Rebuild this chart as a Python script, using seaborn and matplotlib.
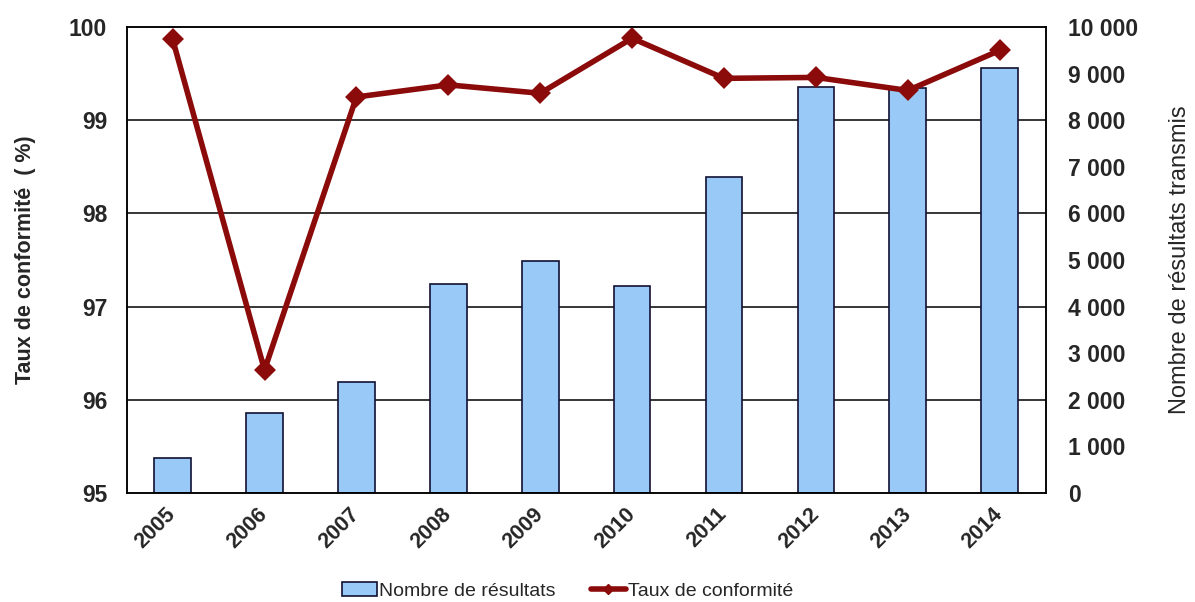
import pandas as pd
import matplotlib.pyplot as plt
import seaborn as sns
from matplotlib.patches import Patch
from matplotlib.lines import Line2D

# Data
years = ['2005', '2006', '2007', '2008', '2009', '2010', '2011', '2012', '2013', '2014']
nb_resultats = [750, 1720, 2380, 4480, 4980, 4440, 6780, 8710, 8700, 9120]
taux_conformite = [99.87, 96.32, 99.25, 99.38, 99.29, 99.88, 99.45, 99.46, 99.32, 99.75]

df = pd.DataFrame({'annee': years, 'nb': nb_resultats, 'taux': taux_conformite})

sns.set_style('white')
plt.rcParams['font.family'] = ['Liberation Sans', 'DejaVu Sans']

bar_color = '#99c9f7'
line_color = '#8b0a0a'

fig, ax = plt.subplots(figsize=(11.95, 6.02), dpi=100)
fig.subplots_adjust(left=0.106, right=0.875, top=0.955, bottom=0.181)
ax2 = ax.twinx()

# bars on the secondary axis, drawn underneath the line axis
for y in [2000, 4000, 6000, 8000]:
    ax2.axhline(y, color='black', lw=1.1, zorder=0)
sns.barplot(data=df, x='annee', y='nb', ax=ax2, color=bar_color,
            edgecolor='#111133', linewidth=1.2, width=0.4, saturation=1, zorder=2)

sns.pointplot(data=df, x='annee', y='taux', ax=ax, color=line_color,
              markers='D', markersize=8, linewidth=4, linestyles='-')

ax.set_zorder(ax2.get_zorder() + 1)
ax.patch.set_visible(False)

ax.set_xlim(-0.5, 9.5)
ax.set_ylim(95, 100)
ax.set_yticks([95, 96, 97, 98, 99, 100])
ax2.set_ylim(0, 10000)
ax2.set_yticks(range(0, 10001, 1000))
ax2.set_yticklabels([f'{v:,}'.replace(',', ' ') for v in range(0, 10001, 1000)])

ax.set_xlabel('')
ax.set_ylabel('Taux de conformité  ( %)', fontsize=15.5, fontweight='bold', labelpad=24)
ax2.set_xlabel('')
ax2.set_ylabel('Nombre de résultats transmis', fontsize=17, labelpad=22)

ax.set_xticks(range(len(years)))
ax.set_xticklabels(years, rotation=45, ha='right', va='center',
                   rotation_mode='anchor', fontsize=15.5, fontweight='bold')
for lab in ax.get_yticklabels():
    lab.set_fontsize(16.5)
    lab.set_fontweight('bold')
for lab in ax2.get_yticklabels():
    lab.set_fontsize(16.5)
    lab.set_fontweight('bold')
ax.tick_params(axis='y', length=0, pad=14)
ax.tick_params(axis='x', length=0, pad=13)
ax2.tick_params(axis='both', length=0, pad=16)

for a in (ax, ax2):
    for s in a.spines.values():
        s.set_visible(True)
        s.set_color('black')
        s.set_linewidth(1.1)

handles = [Patch(facecolor=bar_color, edgecolor='#111133', linewidth=1.2),
           Line2D([], [], color=line_color, lw=4, marker='D', markersize=5)]
fig.legend(handles, ['Nombre de résultats', 'Taux de conformité'],
           loc='lower center', bbox_to_anchor=(0.475, -0.025), ncol=2, frameon=False,
           fontsize=14, handlelength=1.8, handletextpad=0.1, columnspacing=1.8)

plt.savefig('out.png', dpi=100)
